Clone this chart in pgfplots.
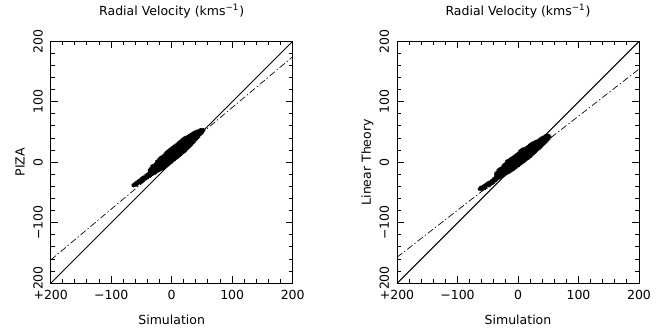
\documentclass[border=0pt]{standalone}
\usepackage{fontspec}
\setmainfont{DejaVu Sans}
\usepackage{pgfplots}
\pgfplotsset{compat=1.18}
\pgfplotsset{
  every axis title shift=0pt,
  panel/.style={
    scale only axis, width=145.2pt, height=145.2pt,
    xmin=-200, xmax=200, ymin=-200, ymax=200,
    font=\fontsize{7.5}{9}\selectfont,
    axis line style={line width=0.6pt},
    every tick/.style={line width=0.6pt, black},
    tick align=inside,
    major tick length=4.2pt, minor tick length=2.4pt,
    xtick={-200,-100,0,100,200}, ytick={-200,-100,0,100,200},
    xticklabels={−200,−100,0,100,200},
    yticklabels={−200,−100,0,100,200},
    minor tick num=4,
    xtick pos=both, ytick pos=both,
    xticklabel style={anchor=north, inner sep=0pt, outer sep=0pt, outer ysep=4pt},
    yticklabel style={rotate=90, anchor=south, inner sep=0pt, outer sep=0pt, outer ysep=4.8pt},
    title={Radial Velocity (kms\textsuperscript{−1})},
    title style={at={(axis description cs:0.5,1.106)}, anchor=base, inner sep=0pt},
    xlabel={Simulation},
    xlabel style={at={(axis description cs:0.5,-0.172)}, anchor=base, inner sep=0pt},
    ylabel style={at={(axis description cs:-0.108,0.5)}, anchor=base, inner sep=0pt},
    clip=true,
  },
  diag/.style={black, line width=0.6pt},
  fit/.style={black, line width=0.4pt, dash pattern=on 4pt off 1.5pt on 0.8pt off 1.5pt},
  pts/.style={only marks, mark=asterisk, mark size=1.3pt, black, mark options={line width=0.75pt}},
}
\begin{document}
\begin{tikzpicture}
\useasboundingbox (0,0) rectangle (398.4pt,199.8pt);
\begin{axis}[panel, at={(30.42pt,29.82pt)}, anchor=south west, ylabel={PIZA}]
\addplot[diag] coordinates {(-200,-200) (200,200)};
\addplot[fit] coordinates {(-200,-161.5) (200,174.5)};
\addplot[pts] coordinates {
(-63,-38) (-61,-36) (-59,-37) (-57,-33) (-55,-34) (-53,-30) (-51,-32) (-49,-27) (-48,-30) (-46,-25) (-44,-27) (-42,-22) (-41,-25) (-39,-20) (-38,-23)
(-36,-22) (-36,-19) (-36,-16) (-36,-13)
(-34,-20) (-34,-17) (-34,-14) (-34,-11)
(-32,-19) (-32,-16) (-32,-13) (-32,-10) (-32,-7)
(-30,-18) (-30,-15) (-30,-12) (-30,-9) (-30,-6)
(-28,-17) (-28,-14) (-28,-11) (-28,-8) (-28,-5)
(-26,-15) (-26,-12) (-26,-9) (-26,-6) (-26,-3)
(-24,-14) (-24,-11) (-24,-8) (-24,-5) (-24,-2) (-24,1)
(-22,-13) (-22,-10) (-22,-7) (-22,-4) (-22,-1) (-22,2)
(-20,-12) (-20,-9) (-20,-6) (-20,-3) (-20,0) (-20,3) (-20,5)
(-18,-11) (-18,-8) (-18,-5) (-18,-2) (-18,1) (-18,4) (-18,7)
(-16,-10) (-16,-7) (-16,-4) (-16,-1) (-16,2) (-16,5) (-16,8)
(-14,-9) (-14,-6) (-14,-3) (-14,0) (-14,3) (-14,6) (-14,9)
(-12,-7) (-12,-4) (-12,-1) (-12,2) (-12,5) (-12,8) (-12,11)
(-10,-6) (-10,-3) (-10,0) (-10,3) (-10,6) (-10,9) (-10,12) (-10,14)
(-8,-4) (-8,-1) (-8,2) (-8,5) (-8,8) (-8,11) (-8,14) (-8,16)
(-6,-3) (-6,0) (-6,3) (-6,6) (-6,9) (-6,12) (-6,15) (-6,17)
(-4,-1) (-4,2) (-4,5) (-4,8) (-4,11) (-4,14) (-4,17) (-4,19)
(-2,0) (-2,3) (-2,6) (-2,9) (-2,12) (-2,15) (-2,18) (-2,21)
(0,2) (0,5) (0,8) (0,11) (0,14) (0,17) (0,20) (0,22)
(2,4) (2,7) (2,10) (2,13) (2,16) (2,19) (2,22) (2,24)
(4,5) (4,8) (4,11) (4,14) (4,17) (4,20) (4,23) (4,25)
(6,7) (6,10) (6,13) (6,16) (6,19) (6,22) (6,25) (6,27)
(8,8) (8,11) (8,14) (8,17) (8,20) (8,23) (8,26) (8,28)
(10,10) (10,13) (10,16) (10,19) (10,22) (10,25) (10,28) (10,30)
(12,12) (12,15) (12,18) (12,21) (12,24) (12,27) (12,30) (12,32)
(14,13) (14,16) (14,19) (14,22) (14,25) (14,28) (14,31) (14,33)
(16,15) (16,18) (16,21) (16,24) (16,27) (16,30) (16,33) (16,35)
(18,17) (18,20) (18,23) (18,26) (18,29) (18,32) (18,35) (18,37)
(20,18) (20,21) (20,24) (20,27) (20,30) (20,33) (20,36) (20,38)
(22,20) (22,23) (22,26) (22,29) (22,32) (22,35) (22,38) (22,40)
(24,22) (24,25) (24,28) (24,31) (24,34) (24,37) (24,40)
(26,24) (26,27) (26,30) (26,33) (26,36) (26,39) (26,41)
(28,26) (28,29) (28,32) (28,35) (28,38) (28,41) (28,43)
(30,28) (30,31) (30,34) (30,37) (30,40) (30,43)
(32,30) (32,33) (32,36) (32,39) (32,42) (32,45)
(34,32) (34,35) (34,38) (34,41) (34,44) (34,46)
(36,34) (36,37) (36,40) (36,43) (36,46) (36,48)
(38,37) (38,40) (38,43) (38,46) (38,48)
(40,39) (40,42) (40,45) (40,48) (40,50)
(42,41) (42,44) (42,47) (42,50)
(44,43) (44,46) (44,49) (44,51)
(46,46) (46,49) (46,52)
(48,48) (48,51) (48,53)
(50,50) (50,53)
(52,53)
};
\end{axis}
\begin{axis}[panel, at={(238.2pt,29.82pt)}, anchor=south west, ylabel={Linear Theory}]
\addplot[diag] coordinates {(-200,-200) (200,200)};
\addplot[fit] coordinates {(-200,-157) (200,154)};
\addplot[pts] coordinates {
(-63,-44) (-61,-42) (-59,-44) (-57,-40) (-55,-39) (-54,-42) (-52,-37) (-50,-35) (-48,-38) (-46,-33) (-44,-35) (-42,-30) (-41,-33) (-39,-27) (-38,-30)
(-36,-28) (-36,-25) (-36,-22) (-36,-19)
(-34,-26) (-34,-23) (-34,-20) (-34,-17)
(-32,-25) (-32,-22) (-32,-19) (-32,-16) (-32,-13)
(-30,-24) (-30,-21) (-30,-18) (-30,-15) (-30,-12)
(-28,-23) (-28,-20) (-28,-17) (-28,-14) (-28,-11)
(-26,-22) (-26,-19) (-26,-16) (-26,-13) (-26,-10)
(-24,-21) (-24,-18) (-24,-15) (-24,-12) (-24,-9) (-24,-6)
(-22,-19) (-22,-16) (-22,-13) (-22,-10) (-22,-7) (-22,-4)
(-20,-18) (-20,-15) (-20,-12) (-20,-9) (-20,-6) (-20,-3)
(-18,-17) (-18,-14) (-18,-11) (-18,-8) (-18,-5) (-18,-2) (-18,1)
(-16,-16) (-16,-13) (-16,-10) (-16,-7) (-16,-4) (-16,-1) (-16,2)
(-14,-15) (-14,-12) (-14,-9) (-14,-6) (-14,-3) (-14,0) (-14,3)
(-12,-13) (-12,-10) (-12,-7) (-12,-4) (-12,-1) (-12,2) (-12,5)
(-10,-12) (-10,-9) (-10,-6) (-10,-3) (-10,0) (-10,3) (-10,6)
(-8,-11) (-8,-8) (-8,-5) (-8,-2) (-8,1) (-8,4) (-8,7)
(-6,-9) (-6,-6) (-6,-3) (-6,0) (-6,3) (-6,6) (-6,9)
(-4,-8) (-4,-5) (-4,-2) (-4,1) (-4,4) (-4,7) (-4,10)
(-2,-6) (-2,-3) (-2,0) (-2,3) (-2,6) (-2,9) (-2,12)
(0,-5) (0,-2) (0,1) (0,4) (0,7) (0,10) (0,13)
(2,-3) (2,0) (2,3) (2,6) (2,9) (2,12) (2,15)
(4,-2) (4,1) (4,4) (4,7) (4,10) (4,13) (4,16) (4,18)
(6,0) (6,3) (6,6) (6,9) (6,12) (6,15) (6,18) (6,20)
(8,1) (8,4) (8,7) (8,10) (8,13) (8,16) (8,19) (8,21)
(10,3) (10,6) (10,9) (10,12) (10,15) (10,18) (10,21)
(12,4) (12,7) (12,10) (12,13) (12,16) (12,19) (12,22)
(14,6) (14,9) (14,12) (14,15) (14,18) (14,21) (14,23)
(16,7) (16,10) (16,13) (16,16) (16,19) (16,22) (16,25)
(18,9) (18,12) (18,15) (18,18) (18,21) (18,24) (18,26)
(20,10) (20,13) (20,16) (20,19) (20,22) (20,25) (20,28)
(22,12) (22,15) (22,18) (22,21) (22,24) (22,27) (22,29)
(24,14) (24,17) (24,20) (24,23) (24,26) (24,29) (24,31)
(26,16) (26,19) (26,22) (26,25) (26,28) (26,31)
(28,18) (28,21) (28,24) (28,27) (28,30) (28,32)
(30,20) (30,23) (30,26) (30,29) (30,32) (30,34)
(32,22) (32,25) (32,28) (32,31) (32,34)
(34,23) (34,26) (34,29) (34,32) (34,35)
(36,25) (36,28) (36,31) (36,34) (36,37)
(38,27) (38,30) (38,33) (38,36) (38,38)
(40,29) (40,32) (40,35) (40,38) (40,40)
(42,31) (42,34) (42,37) (42,40)
(44,33) (44,36) (44,39) (44,42)
(46,35) (46,38) (46,41) (46,43)
(48,37) (48,40) (48,43)
(50,39) (50,42) (50,44)
(52,42)
};
\end{axis}
\end{tikzpicture}
\end{document}
